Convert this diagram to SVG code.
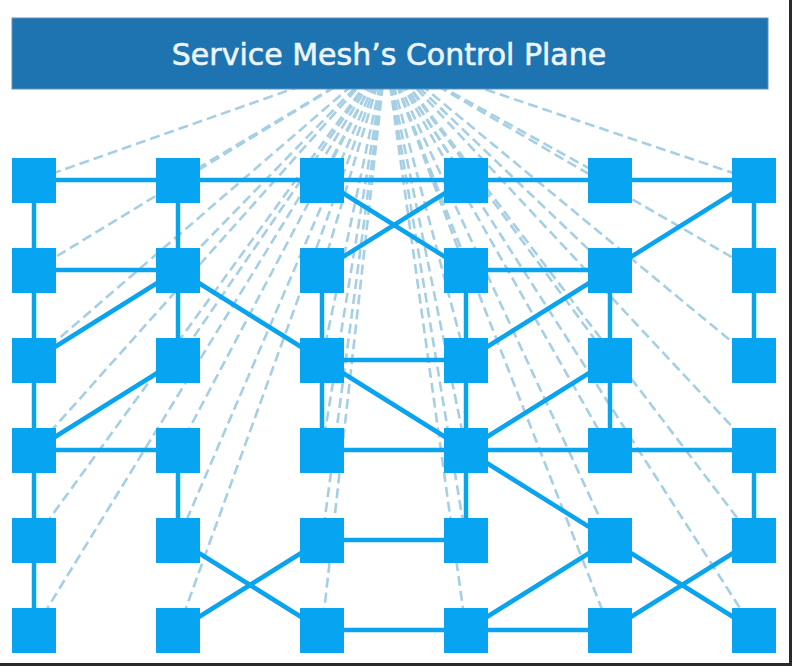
<svg xmlns="http://www.w3.org/2000/svg" width="792" height="666" viewBox="0 0 792 666">
<style>
.dash{stroke:#a6cfe4;stroke-width:2.6;stroke-dasharray:10 5;fill:none}
.edge{stroke:#0aa3ee;stroke-width:4.5;fill:none}
.node{fill:#07a4f2}
.title{font-family:"DejaVu Sans",Verdana,sans-serif;font-size:30px;fill:#eaf6fc;stroke:#eaf6fc;stroke-width:0.6;text-anchor:middle}
</style>
<rect width="792" height="666" fill="#ffffff"/>
<g id="control-links">
<line class="dash" x1="386" y1="56" x2="34" y2="180"/><line class="dash" x1="386" y1="56" x2="34" y2="270"/><line class="dash" x1="386" y1="56" x2="34" y2="360"/><line class="dash" x1="386" y1="56" x2="34" y2="450"/><line class="dash" x1="386" y1="56" x2="34" y2="540"/><line class="dash" x1="386" y1="56" x2="34" y2="630"/>
<line class="dash" x1="386" y1="56" x2="178" y2="180"/><line class="dash" x1="386" y1="56" x2="178" y2="270"/><line class="dash" x1="386" y1="56" x2="178" y2="360"/><line class="dash" x1="386" y1="56" x2="178" y2="450"/><line class="dash" x1="386" y1="56" x2="178" y2="540"/><line class="dash" x1="386" y1="56" x2="178" y2="630"/>
<line class="dash" x1="386" y1="56" x2="322" y2="180"/><line class="dash" x1="386" y1="56" x2="322" y2="270"/><line class="dash" x1="386" y1="56" x2="322" y2="360"/><line class="dash" x1="386" y1="56" x2="322" y2="450"/><line class="dash" x1="386" y1="56" x2="322" y2="540"/><line class="dash" x1="386" y1="56" x2="322" y2="630"/>
<line class="dash" x1="386" y1="56" x2="466" y2="180"/><line class="dash" x1="386" y1="56" x2="466" y2="270"/><line class="dash" x1="386" y1="56" x2="466" y2="360"/><line class="dash" x1="386" y1="56" x2="466" y2="450"/><line class="dash" x1="386" y1="56" x2="466" y2="540"/><line class="dash" x1="386" y1="56" x2="466" y2="630"/>
<line class="dash" x1="386" y1="56" x2="610" y2="180"/><line class="dash" x1="386" y1="56" x2="610" y2="270"/><line class="dash" x1="386" y1="56" x2="610" y2="360"/><line class="dash" x1="386" y1="56" x2="610" y2="450"/><line class="dash" x1="386" y1="56" x2="610" y2="540"/><line class="dash" x1="386" y1="56" x2="610" y2="630"/>
<line class="dash" x1="386" y1="56" x2="754" y2="180"/><line class="dash" x1="386" y1="56" x2="754" y2="270"/><line class="dash" x1="386" y1="56" x2="754" y2="360"/><line class="dash" x1="386" y1="56" x2="754" y2="450"/><line class="dash" x1="386" y1="56" x2="754" y2="540"/><line class="dash" x1="386" y1="56" x2="754" y2="630"/>
</g>
<g id="control-plane">
<rect x="12" y="18" width="756" height="71" fill="#1e74b1" stroke="#5b93bd" stroke-width="1"/>
<text class="title" x="389" y="65">Service Mesh’s Control Plane</text>
</g>
<g id="connectors">
<path class="edge" d="M34 180H754"/>
<path class="edge" d="M322 180L466 270M466 180L322 270"/>
<path class="edge" d="M34 180V630"/>
<path class="edge" d="M178 180V360M178 450V540"/>
<path class="edge" d="M34 270H178M178 270L34 360M178 270L322 360M178 360L34 450M34 450H178"/>
<path class="edge" d="M322 270V450M322 360H466M322 360L466 450M322 450H466"/>
<path class="edge" d="M466 270V540M466 270H610M610 270L466 360M610 270L754 180"/>
<path class="edge" d="M610 270V450M610 360L466 450"/>
<path class="edge" d="M754 180V360"/>
<path class="edge" d="M466 450H754M466 450L610 540M754 450V540"/>
<path class="edge" d="M322 540H466M178 540L322 630M322 540L178 630M322 630H610M466 630L610 540M610 540L754 630M610 630L754 540"/>
</g>
<g id="nodes">
<g id="n-0-0"><rect class="node" x="12" y="158" width="44" height="45"/></g>
<g id="n-1-0"><rect class="node" x="156" y="158" width="44" height="45"/></g>
<g id="n-2-0"><rect class="node" x="300" y="158" width="44" height="45"/></g>
<g id="n-3-0"><rect class="node" x="444" y="158" width="44" height="45"/></g>
<g id="n-4-0"><rect class="node" x="588" y="158" width="44" height="45"/></g>
<g id="n-5-0"><rect class="node" x="732" y="158" width="44" height="45"/></g>
<g id="n-0-1"><rect class="node" x="12" y="248" width="44" height="45"/></g>
<g id="n-1-1"><rect class="node" x="156" y="248" width="44" height="45"/></g>
<g id="n-2-1"><rect class="node" x="300" y="248" width="44" height="45"/></g>
<g id="n-3-1"><rect class="node" x="444" y="248" width="44" height="45"/></g>
<g id="n-4-1"><rect class="node" x="588" y="248" width="44" height="45"/></g>
<g id="n-5-1"><rect class="node" x="732" y="248" width="44" height="45"/></g>
<g id="n-0-2"><rect class="node" x="12" y="338" width="44" height="45"/></g>
<g id="n-1-2"><rect class="node" x="156" y="338" width="44" height="45"/></g>
<g id="n-2-2"><rect class="node" x="300" y="338" width="44" height="45"/></g>
<g id="n-3-2"><rect class="node" x="444" y="338" width="44" height="45"/></g>
<g id="n-4-2"><rect class="node" x="588" y="338" width="44" height="45"/></g>
<g id="n-5-2"><rect class="node" x="732" y="338" width="44" height="45"/></g>
<g id="n-0-3"><rect class="node" x="12" y="428" width="44" height="45"/></g>
<g id="n-1-3"><rect class="node" x="156" y="428" width="44" height="45"/></g>
<g id="n-2-3"><rect class="node" x="300" y="428" width="44" height="45"/></g>
<g id="n-3-3"><rect class="node" x="444" y="428" width="44" height="45"/></g>
<g id="n-4-3"><rect class="node" x="588" y="428" width="44" height="45"/></g>
<g id="n-5-3"><rect class="node" x="732" y="428" width="44" height="45"/></g>
<g id="n-0-4"><rect class="node" x="12" y="518" width="44" height="45"/></g>
<g id="n-1-4"><rect class="node" x="156" y="518" width="44" height="45"/></g>
<g id="n-2-4"><rect class="node" x="300" y="518" width="44" height="45"/></g>
<g id="n-3-4"><rect class="node" x="444" y="518" width="44" height="45"/></g>
<g id="n-4-4"><rect class="node" x="588" y="518" width="44" height="45"/></g>
<g id="n-5-4"><rect class="node" x="732" y="518" width="44" height="45"/></g>
<g id="n-0-5"><rect class="node" x="12" y="608" width="44" height="45"/></g>
<g id="n-1-5"><rect class="node" x="156" y="608" width="44" height="45"/></g>
<g id="n-2-5"><rect class="node" x="300" y="608" width="44" height="45"/></g>
<g id="n-3-5"><rect class="node" x="444" y="608" width="44" height="45"/></g>
<g id="n-4-5"><rect class="node" x="588" y="608" width="44" height="45"/></g>
<g id="n-5-5"><rect class="node" x="732" y="608" width="44" height="45"/></g>
</g>
<g id="frame">
<line x1="790.5" y1="0" x2="790.5" y2="666" stroke="#2a2a2a" stroke-width="3"/>
<line x1="0" y1="664.5" x2="792" y2="664.5" stroke="#2a2a2a" stroke-width="3"/>
</g>
</svg>
